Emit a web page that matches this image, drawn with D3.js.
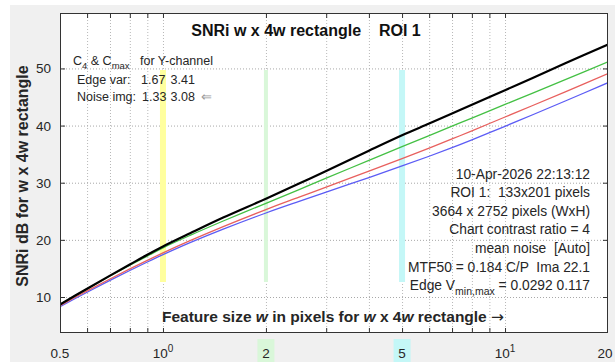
<!DOCTYPE html>
<html>
<head>
<meta charset="utf-8">
<script src="https://cdn.jsdelivr.net/npm/d3@7"></script>
<style>
  html, body { margin: 0; padding: 0; background: #fff; }
  svg { display: block; font-family: "Liberation Sans", Arial, Helvetica, sans-serif; }
</style>
</head>
<body>
<svg id="chart" width="615" height="362"></svg>
<script>
// Feature sizes (pixels) and SNRi (dB) for each curve
const featureSize = [0.5, 0.6, 0.7, 0.8, 0.9, 1, 1.2, 1.5, 2, 2.5, 3, 4, 5, 6, 7, 8, 10, 12, 15, 20];
const snrBlack = [8.7, 11.45, 13.74, 15.68, 17.4, 18.85, 21.15, 23.9, 27.2, 29.85, 32.05, 35.6, 38.3, 40.35, 42.1, 43.65, 46.2, 48.3, 50.9, 54.2];
const snrGreen = [8.7, 11.43, 13.67, 15.55, 17.16, 18.6, 20.78, 23.3, 26.4, 28.8, 30.8, 33.9, 36.3, 38.25, 39.9, 41.3, 43.7, 45.65, 48.05, 51.15];
const snrRed   = [8.5, 11.06, 13.15, 14.91, 16.41, 17.71, 19.85, 22.32, 25.3, 27.47, 29.24, 32.04, 34.23, 36.07, 37.66, 39.08, 41.5, 43.47, 45.9, 49.1];
const snrBlue  = [8.3, 10.83, 12.9, 14.64, 16.12, 17.4, 19.5, 21.87, 24.7, 26.73, 28.35, 30.91, 32.93, 34.63, 36.14, 37.5, 39.87, 41.85, 44.3, 47.5];

// Axes
const xDomain = [0.5, 20];
const yDomain = [3.7, 59.7];
const xGridValues = [0.6, 0.7, 0.8, 0.9, 1, 2, 3, 4, 5, 6, 7, 8, 9, 10];
const yTickValues = [10, 20, 30, 40, 50];
const xLabelValues = [0.5, 1, 2, 5, 10, 20];
const xLabelTexts = ["0.5", "10^0", "2", "5", "10^1", "20"];

// Highlighted feature sizes
const markerSizes = [1, 2, 5];
const markerColors = ["#ffff9e", "#d9f7d9", "#c4f7f7"];

// Annotation text
const titleText = "SNRi w x 4w rectangle    ROI 1";
const infoLines = [
  "10-Apr-2026 22:13:12",
  "ROI 1:  133x201 pixels",
  "3664 x 2752 pixels (WxH)",
  "Chart contrast ratio = 4",
  "mean noise  [Auto]",
  "MTF50 = 0.184 C/P  Ima 22.1"
];

const svg = d3.select("#chart");
const W = 615, H = 362;
const plot = { left: 60, top: 13, right: 608, bottom: 333 };
const pw = plot.right - plot.left, ph = plot.bottom - plot.top;
const textColor = "#262626";

const x = d3.scaleLog().domain(xDomain).range([plot.left, plot.right]);
const y = d3.scaleLinear().domain(yDomain).range([plot.bottom, plot.top]);

// Figure background
svg.append("rect").attr("width", W).attr("height", H).attr("fill", "#ffffff");
svg.append("rect").attr("x", 10).attr("y", 5).attr("width", W - 10).attr("height", H - 5).attr("fill", "#f0f0f0");
svg.append("rect").attr("x", plot.left).attr("y", plot.top).attr("width", pw).attr("height", ph).attr("fill", "#ffffff");

// Grid
const gridX = svg.append("g").attr("transform", `translate(0,${plot.bottom})`)
  .call(d3.axisBottom(x).tickValues(xGridValues).tickSize(-ph).tickFormat(""));
gridX.select(".domain").remove();
gridX.selectAll("line").attr("stroke", "#b8b8b8").attr("stroke-dasharray", "1,2");

const gridY = svg.append("g").attr("transform", `translate(${plot.left},0)`)
  .call(d3.axisLeft(y).tickValues(yTickValues).tickSize(-pw).tickFormat(""));
gridY.select(".domain").remove();
gridY.selectAll("line").attr("stroke", "#a8a8a8").attr("stroke-dasharray", "1,2");

// Vertical bands at highlighted sizes
markerSizes.forEach((v, i) => {
  const bw = i === 1 ? 4 : 6;
  svg.append("rect")
    .attr("x", x(v) - bw / 2).attr("y", 70)
    .attr("width", bw).attr("height", 212)
    .attr("fill", markerColors[i]);
});

// Curves
const line = d3.line().x((d, i) => x(featureSize[i])).y(d => y(d)).curve(d3.curveCatmullRom.alpha(0.5));
const series = [
  { v: snrBlue, c: "#5c5cf5", w: 1.3 },
  { v: snrRed, c: "#e8605e", w: 1.3 },
  { v: snrGreen, c: "#44c044", w: 1.3 },
  { v: snrBlack, c: "#000000", w: 2.2 }
];
svg.append("clipPath").attr("id", "plotclip").append("rect")
  .attr("x", plot.left).attr("y", plot.top).attr("width", pw).attr("height", ph);
series.forEach(s => {
  svg.append("path").datum(s.v)
    .attr("d", line).attr("fill", "none")
    .attr("stroke", s.c).attr("stroke-width", s.w)
    .attr("stroke-linejoin", "round")
    .attr("clip-path", "url(#plotclip)");
});

// Axis box and inward ticks
const axisStyle = g => {
  g.select(".domain").remove();
  g.selectAll("line").attr("stroke", "#333").attr("stroke-width", 1);
};
svg.append("g").attr("transform", `translate(0,${plot.bottom})`)
  .call(d3.axisBottom(x).tickValues(xGridValues).tickSize(-5).tickFormat("")).call(axisStyle);
svg.append("g").attr("transform", `translate(0,${plot.top})`)
  .call(d3.axisTop(x).tickValues(xGridValues).tickSize(-5).tickFormat("")).call(axisStyle);
svg.append("g").attr("transform", `translate(${plot.left},0)`)
  .call(d3.axisLeft(y).tickValues(yTickValues).tickSize(-5).tickFormat("")).call(axisStyle);
svg.append("g").attr("transform", `translate(${plot.right},0)`)
  .call(d3.axisRight(y).tickValues(yTickValues).tickSize(-5).tickFormat("")).call(axisStyle);
svg.append("rect").attr("x", plot.left + 0.5).attr("y", plot.top + 0.5)
  .attr("width", pw - 1).attr("height", ph - 1)
  .attr("fill", "none").attr("stroke", "#333").attr("stroke-width", 1);

// Y tick labels
svg.append("g").selectAll("text").data(yTickValues).join("text")
  .attr("x", plot.left - 9).attr("y", d => y(d) + 5)
  .attr("text-anchor", "end").attr("font-size", 13.5).attr("fill", textColor)
  .text(d => d);

// X tick labels (with highlight boxes for marked sizes)
markerSizes.forEach((v, i) => {
  if (i === 0) return;
  svg.append("rect").attr("x", x(v) - 8.5).attr("y", 339)
    .attr("width", 17).attr("height", H - 339).attr("fill", markerColors[i]);
});
xLabelValues.forEach((v, i) => {
  const t = xLabelTexts[i];
  const cx = i === xLabelValues.length - 1 ? x(v) - 3 : x(v);
  const txt = svg.append("text").attr("x", cx).attr("y", 358)
    .attr("text-anchor", "middle").attr("font-size", 13.5).attr("fill", textColor);
  if (t.includes("^")) {
    const [b, e] = t.split("^");
    txt.append("tspan").text(b);
    txt.append("tspan").attr("dy", -6).attr("font-size", 10).text(e);
  } else {
    txt.text(t);
  }
});

// Title
svg.append("text").attr("x", 306).attr("y", 36)
  .attr("text-anchor", "middle").attr("font-size", 16).attr("font-weight", "bold")
  .attr("fill", "#111").attr("xml:space", "preserve").style("white-space", "pre")
  .text(titleText);

// Y axis label
svg.append("text")
  .attr("transform", `translate(28,${(plot.top + plot.bottom) / 2 + 3}) rotate(-90)`)
  .attr("text-anchor", "middle").attr("font-size", 16).attr("font-weight", "bold")
  .attr("fill", textColor)
  .text("SNRi dB for w x 4w rectangle");

// X axis label inside plot
const xl = svg.append("text").attr("x", 333).attr("y", 322)
  .attr("text-anchor", "middle").attr("font-size", 15.5).attr("font-weight", "bold")
  .attr("fill", textColor);
xl.append("tspan").text("Feature size ");
xl.append("tspan").attr("font-style", "italic").text("w");
xl.append("tspan").text(" in pixels for ");
xl.append("tspan").attr("font-style", "italic").text("w");
xl.append("tspan").text(" x 4");
xl.append("tspan").attr("font-style", "italic").text("w");
xl.append("tspan").text(" rectangle ");
xl.append("tspan").attr("font-family", "DejaVu Sans").attr("font-weight", "normal").text("\u2192");

// Left info block: C4 & Cmax
const lb = svg.append("g").attr("font-size", 12.5).attr("fill", textColor);
const l1 = lb.append("text").attr("x", 73).attr("y", 65).attr("xml:space", "preserve").style("white-space", "pre");
l1.append("tspan").text("C");
l1.append("tspan").attr("dy", 4).attr("font-size", 9.5).text("4");
l1.append("tspan").attr("dy", -4).text(" & C");
l1.append("tspan").attr("dy", 4).attr("font-size", 9.5).text("max");
l1.append("tspan").attr("dy", -4).text("   for Y-channel");
lb.append("text").attr("x", 77).attr("y", 84).text("Edge var:");
lb.append("text").attr("x", 141).attr("y", 84).text("1.67");
lb.append("text").attr("x", 170.5).attr("y", 84).text("3.41");
lb.append("text").attr("x", 77).attr("y", 101).text("Noise img:");
lb.append("text").attr("x", 142).attr("y", 101).text("1.33");
lb.append("text").attr("x", 170.5).attr("y", 101).text("3.08");
lb.append("text").attr("x", 201).attr("y", 101).attr("fill", "#999").text("\u21d0");

// Right info block
const rb = svg.append("g").attr("font-size", 13.8).attr("fill", textColor).attr("text-anchor", "end");
infoLines.forEach((t, i) => {
  rb.append("text").attr("x", 590).attr("y", 178.5 + i * 18.6)
    .attr("xml:space", "preserve").style("white-space", "pre").text(t);
});
const ev = rb.append("text").attr("x", 590).attr("y", 178.5 + 6 * 18.6);
ev.append("tspan").text("Edge V");
ev.append("tspan").attr("dy", 5).attr("font-size", 10.5).text("min,max");
ev.append("tspan").attr("dy", -5).text(" = 0.0292 0.117");
</script>
</body>
</html>
